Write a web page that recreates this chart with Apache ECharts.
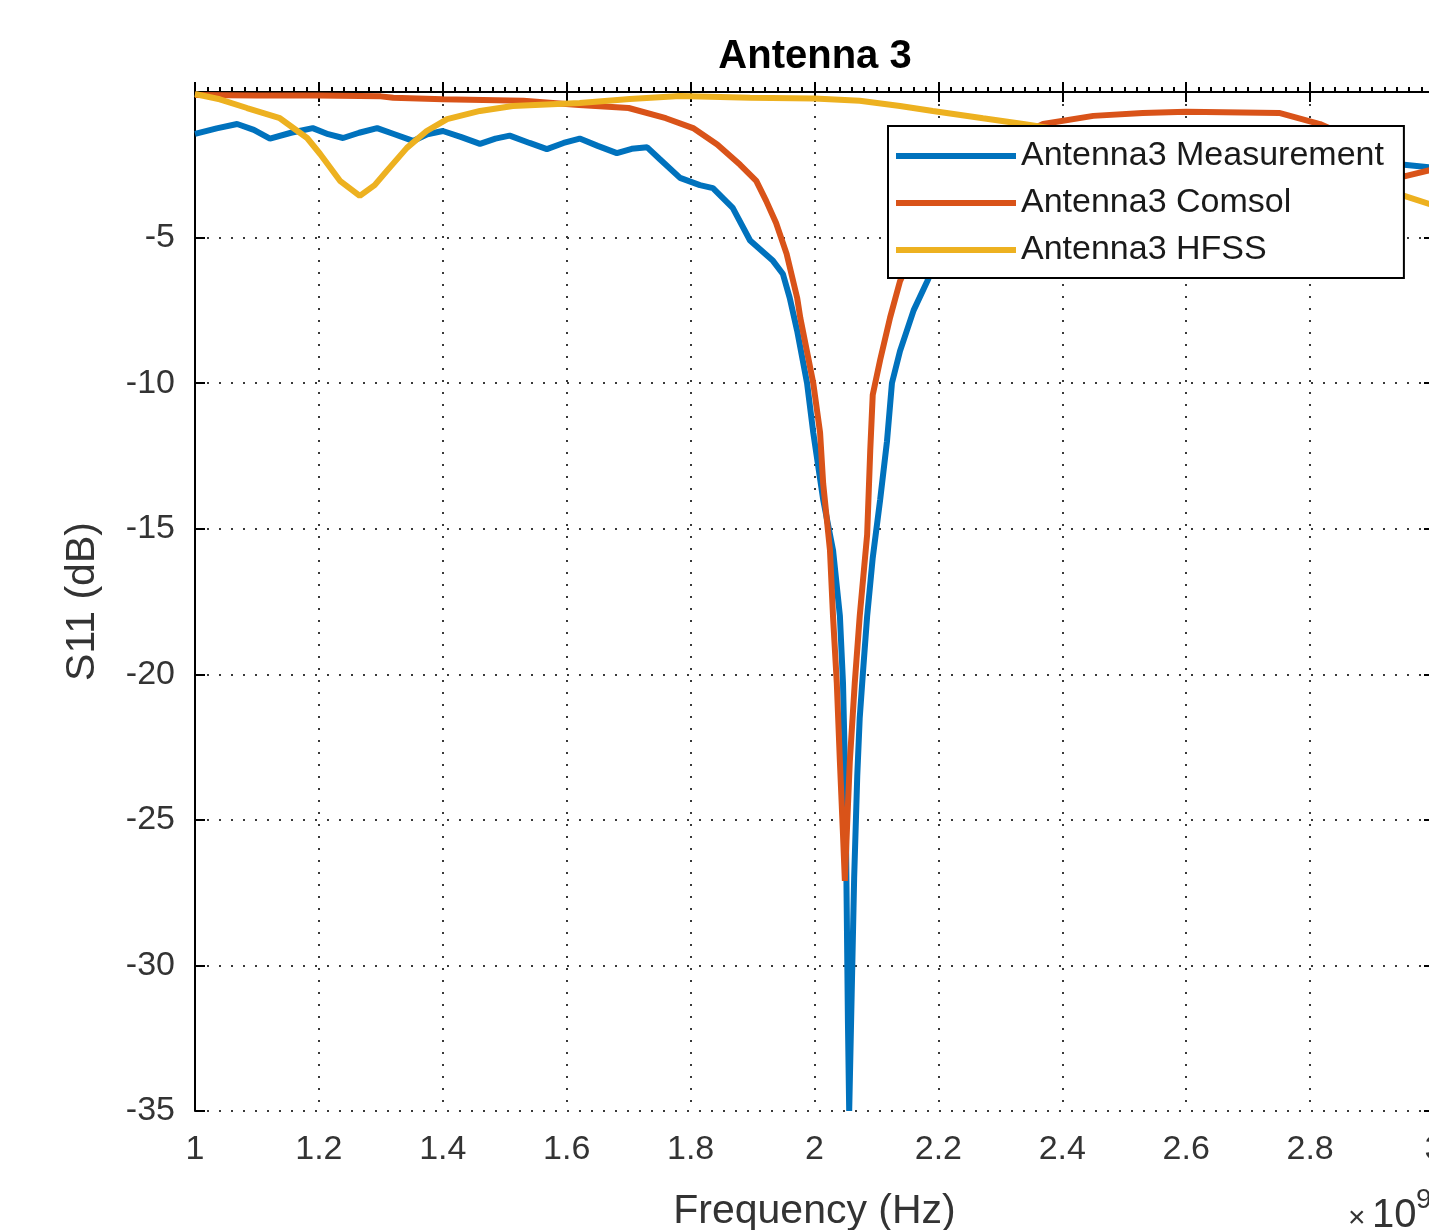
<!DOCTYPE html>
<html>
<head>
<meta charset="utf-8">
<title>Antenna 3</title>
<script src="https://cdn.jsdelivr.net/npm/echarts@6/dist/echarts.min.js"></script>
<style>
  html, body { margin: 0; padding: 0; background: #ffffff; }
  #chart { width: 1429px; height: 1230px; }
</style>
</head>
<body>
<div id="chart"></div>
<script>
  // frequency in units of 1e9 Hz (axis shows x10^9)
  var measFreq = [1.000, 1.035, 1.068, 1.095, 1.121, 1.155, 1.190, 1.215, 1.239, 1.265, 1.294, 1.322, 1.352, 1.375,
    1.400, 1.430, 1.460, 1.485, 1.508, 1.540, 1.568, 1.595, 1.621, 1.650, 1.681, 1.705, 1.730, 1.750, 1.783,
    1.815, 1.836, 1.868, 1.896, 1.933, 1.949, 1.960, 1.972, 1.988, 1.998, 2.014, 2.030, 2.041, 2.046, 2.050,
    2.052, 2.054, 2.056, 2.060, 2.064, 2.069, 2.073, 2.078, 2.085, 2.094, 2.106, 2.117, 2.125, 2.138, 2.160,
    2.182, 2.200, 2.250, 2.300, 2.400, 2.500, 2.600, 2.700, 2.800, 2.900, 2.952, 3.000];
  var measS11 = [-1.44, -1.25, -1.10, -1.30, -1.60, -1.40, -1.24, -1.45, -1.58, -1.40, -1.24, -1.45, -1.68, -1.45,
    -1.34, -1.55, -1.78, -1.60, -1.50, -1.75, -1.96, -1.75, -1.60, -1.85, -2.10, -1.95, -1.90, -2.30, -2.95,
    -3.20, -3.30, -3.98, -5.10, -5.80, -6.25, -7.07, -8.20, -10.0, -11.7, -14.0, -15.75, -18.0, -20.3, -24.0,
    -28.0, -32.0, -35.0, -31.0, -27.0, -23.5, -21.5, -20.0, -18.0, -16.0, -14.0, -12.0, -10.0, -8.9, -7.5,
    -6.5, -5.6, -4.4, -3.6, -2.9, -2.6, -2.4, -2.3, -2.35, -2.45, -2.5, -2.6];

  var comsolFreq = [1.000, 1.100, 1.200, 1.300, 1.320, 1.400, 1.530, 1.620, 1.700, 1.760, 1.804, 1.843, 1.880,
    1.906, 1.922, 1.938, 1.955, 1.972, 1.977, 1.998, 2.009, 2.014, 2.025, 2.030, 2.036, 2.041, 2.046, 2.049,
    2.053, 2.057, 2.065, 2.073, 2.085, 2.090, 2.094, 2.106, 2.122, 2.138, 2.170, 2.200, 2.250, 2.300, 2.369,
    2.450, 2.530, 2.600, 2.750, 2.816, 2.900, 2.952, 3.000];
  var comsolS11 = [-0.10, -0.12, -0.12, -0.15, -0.20, -0.25, -0.30, -0.45, -0.55, -0.90, -1.24, -1.80, -2.50,
    -3.05, -3.74, -4.50, -5.56, -7.07, -7.75, -10.0, -11.7, -13.45, -15.75, -18.05, -20.3, -23.0, -25.5, -27.1,
    -25.0, -23.0, -20.3, -18.0, -15.2, -12.3, -10.4, -9.2, -7.75, -6.5, -5.0, -3.8, -2.6, -1.8, -1.1,
    -0.82, -0.72, -0.68, -0.72, -1.10, -1.90, -2.90, -2.65];

  var hfssFreq = [1.000, 1.040, 1.084, 1.137, 1.181, 1.202, 1.234, 1.266, 1.290, 1.310, 1.342, 1.374, 1.407,
    1.460, 1.513, 1.621, 1.702, 1.783, 1.896, 2.000, 2.073, 2.138, 2.191, 2.272, 2.337, 2.400, 2.500, 2.600,
    2.700, 2.800, 2.900, 2.952, 3.000];
  var hfssS11 = [-0.07, -0.25, -0.55, -0.90, -1.58, -2.13, -3.05, -3.57, -3.20, -2.70, -1.92, -1.34, -0.93,
    -0.65, -0.48, -0.38, -0.24, -0.14, -0.20, -0.22, -0.30, -0.48, -0.65, -0.90, -1.10, -1.30, -1.60, -1.90,
    -2.20, -2.60, -3.10, -3.57, -3.90];

  var seriesNames = ['Antenna3 Measurement', 'Antenna3 Comsol', 'Antenna3 HFSS'];
  var seriesColors = ['#0072BD', '#D95319', '#EDB120'];

  function pairs(xs, ys) {
    var out = [];
    for (var i = 0; i < xs.length; i++) out.push([xs[i], ys[i]]);
    return out;
  }

  var font = '"Liberation Sans", Arial, sans-serif';
  var gridDots = { color: '#3a3a3a', width: 2, type: [2, 10] };

  var chart = echarts.init(document.getElementById('chart'));
  chart.setOption({
    animation: false,
    backgroundColor: '#ffffff',
    // plot box runs a little past the right edge of the picture (cropped figure)
    grid: { left: 195, right: -5, top: 92, bottom: 119, outerBoundsMode: 'none', containLabel: false },
    legend: {
      orient: 'vertical',
      left: 888,
      top: 126,
      data: seriesNames,
      icon: 'rect',
      itemWidth: 120,
      itemHeight: 6,
      itemGap: 7,
      padding: [10, 20, 8, 8],
      backgroundColor: '#ffffff',
      borderColor: '#000000',
      borderWidth: 2,
      borderRadius: 0,
      textStyle: { fontFamily: font, fontSize: 34, color: '#1a1a1a', lineHeight: 40 }
    },
    xAxis: [{
      type: 'value',
      position: 'bottom',
      min: 1, max: 3, interval: 0.2,
      name: 'Frequency (Hz)',
      nameLocation: 'middle',
      nameGap: 80,
      nameTextStyle: { fontFamily: font, fontSize: 41, color: '#333333' },
      axisLine: { lineStyle: { color: '#000000', width: 2 } },
      axisTick: { inside: true, length: 10, lineStyle: { color: '#000000', width: 2 } },
      minorTick: { show: true, splitNumber: 10, length: 5, lineStyle: { color: '#000000', width: 2 } },
      axisLabel: { fontFamily: font, fontSize: 34, color: '#333333', margin: 22 },
      splitLine: { show: true, lineStyle: gridDots }
    }, {
      type: 'value',
      position: 'top',
      min: 1, max: 3, interval: 0.2,
      axisLine: { lineStyle: { color: '#000000', width: 2 } },
      axisTick: { inside: true, length: 10, lineStyle: { color: '#000000', width: 2 } },
      axisLabel: { show: false },
      splitLine: { show: false }
    }],
    yAxis: [{
      type: 'value',
      position: 'left',
      min: -35, max: 0, interval: 5,
      name: 'S11 (dB)',
      nameLocation: 'middle',
      nameGap: 92,
      nameTextStyle: { fontFamily: font, fontSize: 41, color: '#333333' },
      axisLine: { lineStyle: { color: '#000000', width: 2 } },
      axisTick: { inside: true, length: 10, lineStyle: { color: '#000000', width: 2 } },
      axisLabel: { fontFamily: font, fontSize: 34, color: '#333333', margin: 20, showMaxLabel: false },
      splitLine: { show: true, lineStyle: gridDots }
    }, {
      type: 'value',
      position: 'right',
      min: -35, max: 0, interval: 5,
      axisLine: { lineStyle: { color: '#000000', width: 2 } },
      axisTick: { inside: true, length: 10, lineStyle: { color: '#000000', width: 2 } },
      axisLabel: { show: false },
      splitLine: { show: false }
    }],
    graphic: [{
      type: 'text',
      x: 815, y: 57,
      style: { text: 'Antenna 3', font: 'bold 40px ' + font, fill: '#000000', textAlign: 'center', textVerticalAlign: 'middle' }
    }, {
      type: 'text',
      x: 1348, y: 1204,
      style: { text: '\u00d7', font: '30px ' + font, fill: '#333333' }
    }, {
      type: 'text',
      x: 1372, y: 1196,
      style: { text: '10', font: '40px ' + font, fill: '#333333' }
    }, {
      type: 'text',
      x: 1416, y: 1186,
      style: { text: '9', font: '28px ' + font, fill: '#333333' }
    }],
    series: [{
      name: seriesNames[0],
      type: 'line',
      showSymbol: false,
      data: pairs(measFreq, measS11),
      lineStyle: { color: seriesColors[0], width: 6 },
      itemStyle: { color: seriesColors[0] }
    }, {
      name: seriesNames[1],
      type: 'line',
      showSymbol: false,
      data: pairs(comsolFreq, comsolS11),
      lineStyle: { color: seriesColors[1], width: 6 },
      itemStyle: { color: seriesColors[1] }
    }, {
      name: seriesNames[2],
      type: 'line',
      showSymbol: false,
      data: pairs(hfssFreq, hfssS11),
      lineStyle: { color: seriesColors[2], width: 6 },
      itemStyle: { color: seriesColors[2] }
    }]
  });
</script>
</body>
</html>
